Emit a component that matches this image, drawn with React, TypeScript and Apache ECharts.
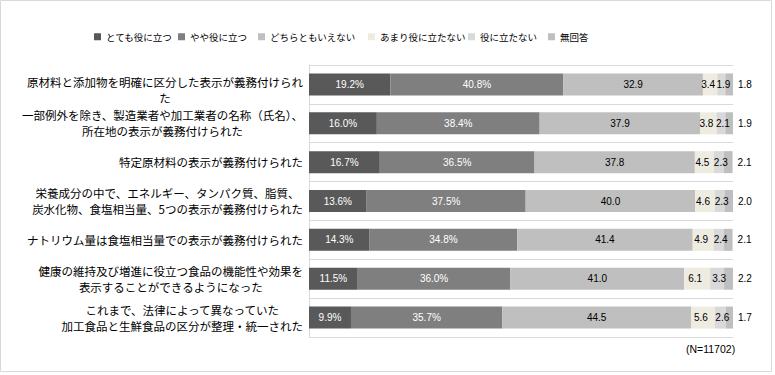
import React, { useEffect, useRef } from "react";
import * as echarts from "echarts";

const categories = [
  "原材料と添加物を明確に区分した表示が義務付けられ\nた",
  "一部例外を除き、製造業者や加工業者の名称（氏名）、\n所在地の表示が義務付けられた",
  "特定原材料の表示が義務付けられた",
  "栄養成分の中で、エネルギー、タンパク質、脂質、\n炭水化物、食塩相当量、5つの表示が義務付けられた",
  "ナトリウム量は食塩相当量での表示が義務付けられた",
  "健康の維持及び増進に役立つ食品の機能性や効果を\n表示することができるようになった",
  "これまで、法律によって異なっていた\n加工食品と生鮮食品の区分が整理・統一された",
];

const seriesNames = [
  "とても役に立つ",
  "やや役に立つ",
  "どちらともいえない",
  "あまり役に立たない",
  "役に立たない",
  "無回答",
];

const veryUseful = [19.2, 16.0, 16.7, 13.6, 14.3, 11.5, 9.9];
const somewhatUseful = [40.8, 38.4, 36.5, 37.5, 34.8, 36.0, 35.7];
const neither = [32.9, 37.9, 37.8, 40.0, 41.4, 41.0, 44.5];
const notVeryUseful = [3.4, 3.8, 4.5, 4.6, 4.9, 6.1, 5.6];
const notUseful = [1.9, 2.1, 2.3, 2.3, 2.4, 3.3, 2.6];
const noAnswer = [1.8, 1.9, 2.1, 2.0, 2.1, 2.2, 1.7];

const seriesValues = [veryUseful, somewhatUseful, neither, notVeryUseful, notUseful, noAnswer];
const colors = ["#595959", "#7f7f7f", "#bfbfbf", "#eeece1", "#d9d9d9", "#bfbfbf"];
const labelOffsets = [[0, 0], [0, 0], [0, 0], [-2, 0], [2, 0], [0, 0]];
const legendLeft = [94, 178, 258, 368, 468, 548];
const sampleNote = "(N=11702)";

export default function App() {
  const ref = useRef<HTMLDivElement>(null);
  useEffect(() => {
    if (!ref.current) return;
    const chart = echarts.init(ref.current, null, { renderer: "svg" });
    const latin = "'Liberation Sans', Arial, sans-serif";
    const cjk = "'Noto Sans CJK JP', sans-serif";
    const series = seriesValues.map((vals, i) => ({
      type: "bar",
      name: seriesNames[i],
      stack: "total",
      barWidth: 22,
      data: vals,
      itemStyle: { color: colors[i] },
      label: {
        show: true,
        position: i === 5 ? "right" : "inside",
        distance: 5,
        offset: labelOffsets[i],
        color: i < 2 ? "#ffffff" : "#000000",
        fontFamily: latin,
        fontSize: 10,
        formatter: (p: any) => (i < 2 ? p.value.toFixed(1) + "%" : p.value.toFixed(1)),
      },
    }));
    chart.setOption({
      animation: false,
      graphic: [
        {
          type: "rect",
          shape: { x: 0.5, y: 0.5, width: 771, height: 371 },
          style: { fill: "none", stroke: "#d9d9d9", lineWidth: 1 },
          silent: true,
        },
        {
          type: "text",
          left: 686,
          top: 343,
          style: { text: sampleNote, fontSize: 10.5, fontFamily: latin, fill: "#000" },
        },
      ],
      legend: seriesNames.map((n, i) => ({
        data: [n],
        left: legendLeft[i],
        top: 32,
        padding: 0,
        itemWidth: 7,
        itemHeight: 7,
        icon: "rect",
        selectedMode: false,
        textStyle: { fontSize: 9.5, fontFamily: cjk, color: "#000" },
      })),
      grid: { left: 309, right: 42, top: 65, bottom: 38 },
      xAxis: {
        type: "value",
        min: 0,
        max: 100,
        show: false,
      },
      yAxis: {
        type: "category",
        inverse: true,
        data: categories,
        axisLine: { show: true, lineStyle: { color: "#d9d9d9" } },
        axisTick: { show: false },
        splitLine: { show: true, lineStyle: { color: "#d9d9d9" } },
        axisLabel: {
          margin: 6,
          align: "right",
          formatter: (v: string, idx: number) => {
            const lines = v.split("\n").map((l) => "{c|" + l + "}");
            if (idx === 0) lines.unshift("{b| }");
            return lines.join("\n");
          },
          rich: {
            c: {
              align: "center",
              fontSize: 11.5,
              lineHeight: 16,
              fontFamily: cjk,
              color: "#000",
            },
            b: {
              align: "center",
              fontSize: 4,
              lineHeight: 11,
              fontFamily: cjk,
              color: "#000",
            },
          },
        },
      },
      series,
    });
    return () => chart.dispose();
  }, []);
  return (
    <div
      ref={ref}
      style={{ position: "fixed", left: 0, top: 0, width: 775, height: 375, background: "#fff" }}
    />
  );
}
